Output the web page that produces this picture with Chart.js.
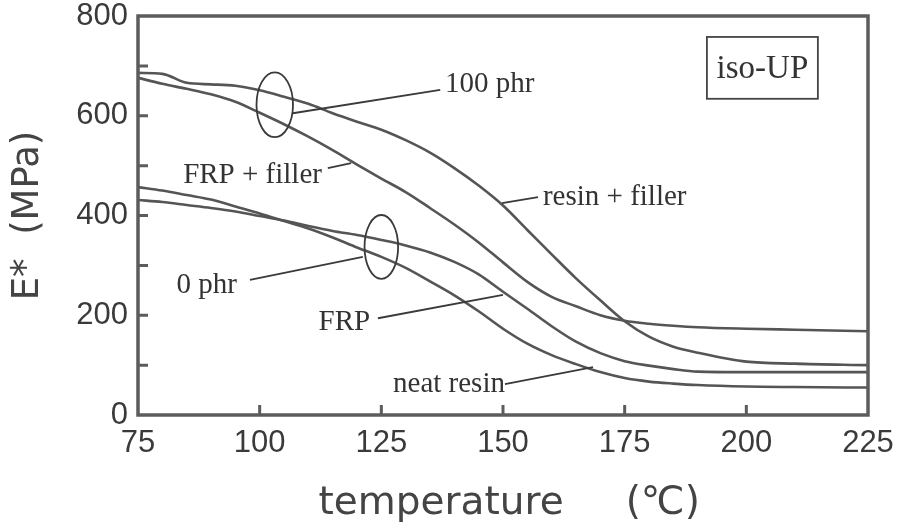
<!DOCTYPE html>
<html>
<head>
<meta charset="utf-8">
<script src="https://cdn.jsdelivr.net/npm/chart.js@4.4.1/dist/chart.umd.min.js"></script>
<style>
  html, body { margin: 0; padding: 0; background: #fff; }
  #wrap { width: 902px; height: 527px; }
</style>
</head>
<body>
<div id="wrap"><canvas id="modulusChart" width="902" height="527"></canvas></div>
<script>
// temperature grid (°C) shared by all four curves
const temps = [75, 80, 85, 90, 95, 100, 105, 110, 115, 120, 125, 130, 135, 140, 145,
  150, 155, 160, 165, 170, 175, 180, 185, 190, 200, 210, 225];

// storage modulus E* (MPa)
const resinFiller = [686, 684, 666, 663, 660, 651, 638, 624, 605, 588, 572, 551, 526, 495, 460,
  420, 371, 322, 274, 230, 188, 157, 137, 125, 107, 103, 100];
const frpFiller = [676, 664, 654, 643, 628, 606, 583, 558, 531, 502, 474, 447, 415, 382, 346,
  306, 267, 237, 218, 200, 189, 183, 179, 176, 173, 171, 168];
const neatResin = [457, 450, 441, 432, 418, 404, 389, 374, 356, 336, 317, 295, 268, 240, 208,
  173, 143, 120, 102, 86, 74, 67, 63, 60, 57, 56, 55];
const frp = [431, 427, 421, 415, 408, 399, 390, 379, 369, 361, 351, 340, 326, 307, 282,
  247, 213, 178, 147, 124, 108, 99, 92, 87, 86, 86, 86];

const xTicks = [75, 100, 125, 150, 175, 200, 225];
const yLabelStep = 200;

// callouts, all in data units: [text, anchor T, anchor E, align]
const labels = [
  ['100 phr', 138.1, 662, 'left'],
  ['FRP + filler', 112.8, 481, 'right'],
  ['resin + filler', 158.2, 437, 'left'],
  ['0 phr', 95.3, 259, 'right'],
  ['FRP', 122.7, 186, 'right'],
  ['neat resin', 150.4, 62, 'right']
];
// leader lines: [T1, E1, T2, E2]
const leaders = [
  [106.8, 605, 137.1, 652],
  [114.0, 495, 118.8, 505],
  [149.8, 425, 157.2, 437],
  [98.0, 271, 121.2, 317],
  [124.3, 194, 150.0, 241],
  [150.4, 62, 168.5, 96]
];
// grouping ellipses: [T centre, E centre, half width °C, half height MPa]
const ellipses = [
  [103.1, 622, 3.75, 65],
  [125.0, 337, 3.45, 64]
];
const boxLabel = { text: 'iso-UP', t1: 191.9, e1: 758, t2: 214.7, e2: 634 };

const ink = '#555';

const toPoints = (vals) => vals.map((v, i) => ({ x: temps[i], y: v }));
const series = [resinFiller, frpFiller, neatResin, frp];

const notesPlugin = {
  id: 'notes',
  afterDraw(chart) {
    const { ctx, chartArea: a, scales } = chart;
    const xs = scales.x, ys = scales.y;
    const px = (t) => xs.getPixelForValue(t);
    const py = (e) => ys.getPixelForValue(e);
    ctx.save();

    // frame
    ctx.strokeStyle = '#5c5c5c';
    ctx.lineWidth = 3.5;
    ctx.strokeRect(a.left, a.top, a.right - a.left, a.bottom - a.top);

    // inward tick marks
    ctx.lineWidth = 3;
    ctx.beginPath();
    for (let v = 100; v < 800; v += 100) {
      ctx.moveTo(a.left, py(v));
      ctx.lineTo(a.left + 10, py(v));
    }
    xTicks.slice(1, -1).forEach((t) => {
      ctx.moveTo(px(t), a.bottom);
      ctx.lineTo(px(t), a.bottom - 10);
    });
    ctx.stroke();

    // leaders and ellipses
    ctx.strokeStyle = '#3a3a3a';
    ctx.lineWidth = 1.8;
    leaders.forEach(([t1, e1, t2, e2]) => {
      ctx.beginPath();
      ctx.moveTo(px(t1), py(e1));
      ctx.lineTo(px(t2), py(e2));
      ctx.stroke();
    });
    ellipses.forEach(([t, e, dt, de]) => {
      const rx = px(t + dt) - px(t);
      const ry = py(e - de) - py(e);
      ctx.beginPath();
      ctx.ellipse(px(t), py(e), rx, ry, 0, 0, Math.PI * 2);
      ctx.stroke();
    });

    // callout text
    ctx.fillStyle = '#333';
    ctx.textBaseline = 'middle';
    ctx.font = '29px "Liberation Serif", "Times New Roman", serif';
    labels.forEach(([text, t, e, align]) => {
      ctx.textAlign = align;
      ctx.fillText(text, px(t), py(e));
    });

    // boxed series tag
    const bx = px(boxLabel.t1), by = py(boxLabel.e1);
    const bw = px(boxLabel.t2) - bx, bh = py(boxLabel.e2) - by;
    ctx.strokeStyle = '#444';
    ctx.lineWidth = 1.8;
    ctx.strokeRect(bx, by, bw, bh);
    ctx.font = '33px "Liberation Serif", "Times New Roman", serif';
    ctx.textAlign = 'center';
    ctx.fillText(boxLabel.text, bx + bw / 2, by + bh / 2 + 1);

    ctx.restore();
  }
};

const tickFont = { family: '"Liberation Sans", Arial, sans-serif', size: 31 };

new Chart(document.getElementById('modulusChart'), {
  type: 'line',
  data: {
    datasets: series.map((vals) => ({
      data: toPoints(vals),
      borderColor: ink,
      borderWidth: 2.6,
      pointRadius: 0,
      fill: false,
      cubicInterpolationMode: 'monotone'
    }))
  },
  options: {
    responsive: false,
    animation: false,
    devicePixelRatio: 1,
    layout: { padding: { top: 16, right: 34, left: 0, bottom: 0 } },
    plugins: { legend: { display: false }, tooltip: { enabled: false } },
    scales: {
      x: {
        type: 'linear',
        min: 75,
        max: 225,
        afterBuildTicks: (scale) => { scale.ticks = xTicks.map((v) => ({ value: v })); },
        afterFit: (scale) => {
          scale.height = 112;
          scale.paddingLeft = 0;
          scale.paddingRight = 0;
        },
        grid: { display: false, drawTicks: false },
        border: { display: false },
        ticks: { font: tickFont, color: '#3a3a3a', padding: 10, maxRotation: 0, autoSkip: false },
        title: {
          display: true,
          text: ' temperature     (℃)',
          color: '#444',
          font: { family: '"DejaVu Sans", sans-serif', size: 39 },
          padding: { top: 0, bottom: 0 }
        }
      },
      y: {
        min: 0,
        max: 800,
        ticks: {
          stepSize: 100,
          autoSkip: false,
          font: tickFont,
          color: '#3a3a3a',
          padding: 10,
          callback: (v) => (v % yLabelStep === 0 ? v : '')
        },
        afterFit: (scale) => {
          scale.width = 138;
          scale.paddingTop = 0;
          scale.paddingBottom = 0;
        },
        grid: { display: false, drawTicks: false },
        border: { display: false },
        title: {
          display: true,
          text: 'E*  (MPa)',
          color: '#444',
          font: { family: '"DejaVu Sans", sans-serif', size: 37 },
          padding: { top: 6, bottom: 0 }
        }
      }
    }
  },
  plugins: [notesPlugin]
});
</script>
</body>
</html>
